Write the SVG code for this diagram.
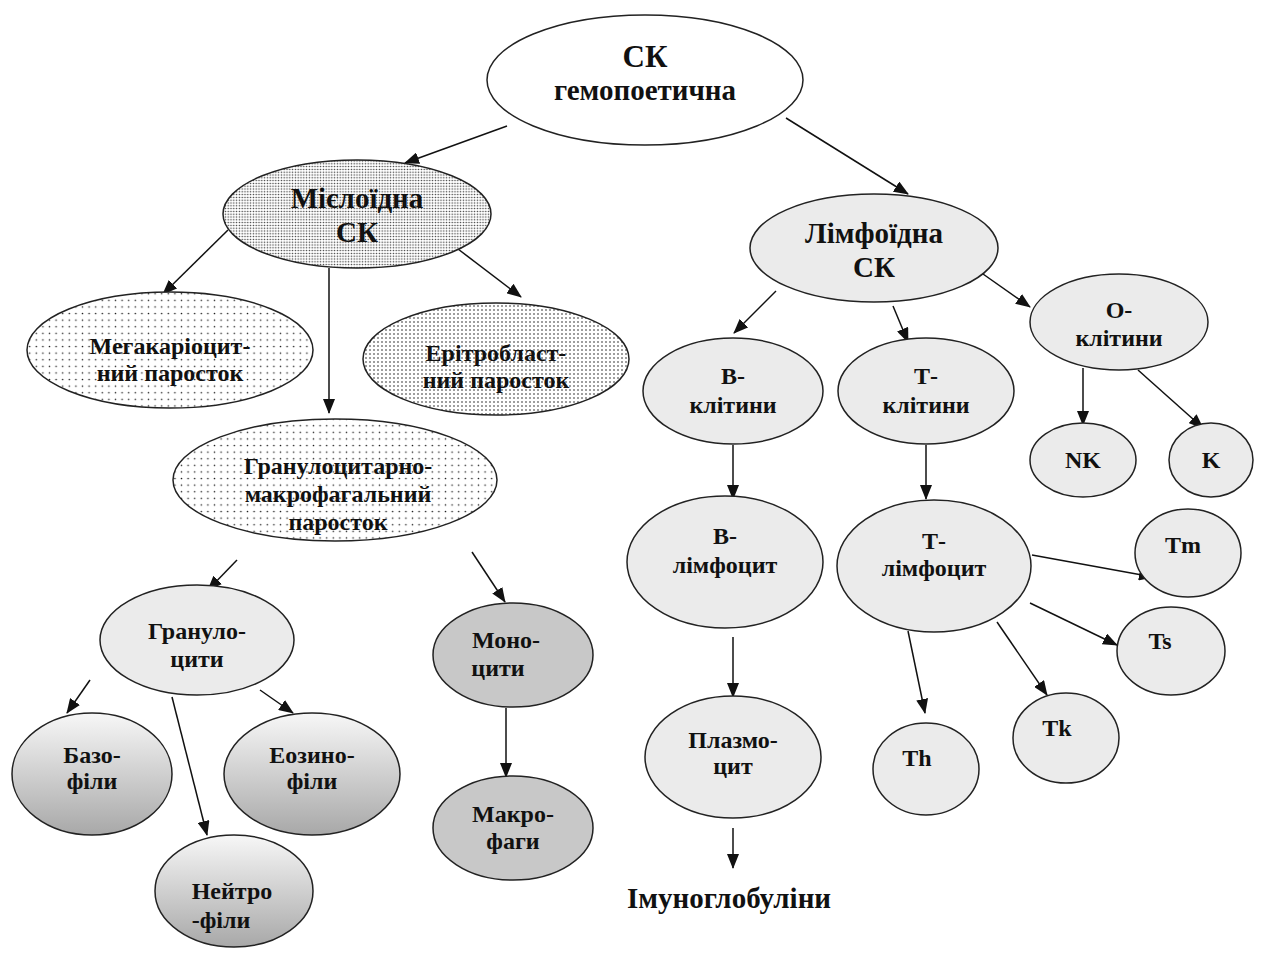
<svg xmlns="http://www.w3.org/2000/svg" width="1263" height="953" viewBox="0 0 1263 953">
<style>
.n{stroke:#222;stroke-width:1.5}
.lg{fill:#ebebeb}
.mg{fill:#c8c8c8}
.t{font-family:"Liberation Serif","DejaVu Serif",serif;font-weight:bold;fill:#111;text-anchor:middle;font-size:24px}
.big{font-size:29px}
.top{font-size:31px}
.c line{stroke:#111;stroke-width:1.5;marker-end:url(#ah)}
</style>
<defs>
<marker id="ah" markerUnits="userSpaceOnUse" markerWidth="15" markerHeight="12" refX="14" refY="6" orient="auto"><path d="M0,0 L15,6 L0,12 z" fill="#111"/></marker>
<pattern id="dense" width="2.8" height="2.8" patternUnits="userSpaceOnUse"><rect width="2.8" height="2.8" fill="#fff"/><circle cx="1.4" cy="1.4" r="0.75" fill="#333"/></pattern>
<pattern id="mid" width="4" height="4" patternUnits="userSpaceOnUse"><rect width="4" height="4" fill="#fff"/><circle cx="2" cy="2" r="0.8" fill="#222"/></pattern>
<pattern id="sparse" width="6.6" height="6.6" patternUnits="userSpaceOnUse"><rect width="6.6" height="6.6" fill="#fff"/><circle cx="3.3" cy="3.3" r="0.8" fill="#222"/></pattern>
<linearGradient id="grad" x1="0" y1="0" x2="0" y2="1"><stop offset="0" stop-color="#f7f7f7"/><stop offset="1" stop-color="#a8a8a8"/></linearGradient>
</defs>

<g id="connectors" class="c">
<line x1="507" y1="126" x2="405" y2="163"/>
<line x1="786" y1="118" x2="908" y2="194"/>
<line x1="228" y1="230" x2="163" y2="294"/>
<line x1="329" y1="268" x2="329" y2="413"/>
<line x1="458" y1="249" x2="521" y2="297"/>
<line x1="237" y1="560" x2="208" y2="590"/>
<line x1="472" y1="552" x2="505" y2="602"/>
<line x1="90" y1="680" x2="67" y2="713"/>
<line x1="172" y1="697" x2="207" y2="835"/>
<line x1="260" y1="690" x2="293" y2="713"/>
<line x1="506" y1="708" x2="506" y2="777"/>
<line x1="776" y1="291" x2="734" y2="333"/>
<line x1="893" y1="306" x2="908" y2="342"/>
<line x1="983" y1="274" x2="1030" y2="307"/>
<line x1="733" y1="445" x2="733" y2="499"/>
<line x1="926" y1="445" x2="926" y2="499"/>
<line x1="1083" y1="368" x2="1083" y2="425"/>
<line x1="1138" y1="370" x2="1203" y2="428"/>
<line x1="733" y1="637" x2="733" y2="697"/>
<line x1="1032" y1="555" x2="1153" y2="577"/>
<line x1="1030" y1="603" x2="1117" y2="645"/>
<line x1="997" y1="622" x2="1047" y2="695"/>
<line x1="908" y1="631" x2="925" y2="713"/>
<line x1="733" y1="828" x2="733" y2="868"/>
</g>

<g id="sk"><ellipse class="n" cx="645" cy="80" rx="158" ry="65" fill="#fff"/><text class="t top" x="645" y="67">СК</text><text class="t big" x="645" y="100">гемопоетична</text></g>

<g id="myeloid"><ellipse class="n" cx="357" cy="214" rx="134" ry="54" fill="url(#dense)"/><text class="t big" x="357" y="208">Мієлоїдна</text><text class="t big" x="357" y="242">СК</text></g>

<g id="lymphoid"><ellipse class="n lg" cx="874" cy="248" rx="124" ry="54"/><text class="t big" x="874" y="243">Лімфоїдна</text><text class="t big" x="874" y="277">СК</text></g>

<g id="mega"><ellipse class="n" cx="170" cy="350" rx="143" ry="58" fill="url(#sparse)"/><text class="t" x="170" y="354">Мегакаріоцит-</text><text class="t" x="170" y="381">ний паросток</text></g>

<g id="erythro"><ellipse class="n" cx="496" cy="359" rx="133" ry="56" fill="url(#mid)"/><text class="t" x="496" y="361">Ерітробласт-</text><text class="t" x="496" y="388">ний паросток</text></g>

<g id="granmacro"><ellipse class="n" cx="335" cy="480" rx="162" ry="61" fill="url(#sparse)"/><text class="t" x="338" y="474">Гранулоцитарно-</text><text class="t" x="338" y="502">макрофагальний</text><text class="t" x="338" y="530">паросток</text></g>

<g id="granulocytes"><ellipse class="n lg" cx="197" cy="640" rx="97" ry="55"/><text class="t" x="197" y="639">Грануло-</text><text class="t" x="197" y="667">цити</text></g>

<g id="baso"><ellipse class="n" cx="92" cy="774" rx="80" ry="61" fill="url(#grad)"/><text class="t" x="92" y="763">Базо-</text><text class="t" x="92" y="789">філи</text></g>

<g id="eosino"><ellipse class="n" cx="312" cy="774" rx="88" ry="61" fill="url(#grad)"/><text class="t" x="312" y="763">Еозино-</text><text class="t" x="312" y="789">філи</text></g>

<g id="neutro"><ellipse class="n" cx="234" cy="891" rx="79" ry="56" fill="url(#grad)"/><text class="t" x="232" y="899">Нейтро</text><text class="t" x="221" y="928">-філи</text></g>

<g id="mono"><ellipse class="n mg" cx="513" cy="655" rx="80" ry="52"/><text class="t" x="506" y="648">Моно-</text><text class="t" x="498" y="676">цити</text></g>

<g id="macro"><ellipse class="n mg" cx="513" cy="828" rx="80" ry="52"/><text class="t" x="513" y="822">Макро-</text><text class="t" x="513" y="849">фаги</text></g>

<g id="bcells"><ellipse class="n lg" cx="733" cy="391" rx="90" ry="53"/><text class="t" x="733" y="384">В-</text><text class="t" x="733" y="413">клітини</text></g>

<g id="tcells"><ellipse class="n lg" cx="926" cy="391" rx="88" ry="53"/><text class="t" x="926" y="384">Т-</text><text class="t" x="926" y="413">клітини</text></g>

<g id="ocells"><ellipse class="n lg" cx="1119" cy="322" rx="89" ry="48"/><text class="t" x="1119" y="318">О-</text><text class="t" x="1119" y="346">клітини</text></g>

<g id="nk"><ellipse class="n lg" cx="1083" cy="460" rx="53" ry="37"/><text class="t" x="1083" y="468">NK</text></g>

<g id="k"><ellipse class="n lg" cx="1211" cy="460" rx="42" ry="37"/><text class="t" x="1211" y="468">K</text></g>

<g id="blymph"><ellipse class="n lg" cx="725" cy="562" rx="98" ry="66"/><text class="t" x="725" y="544">В-</text><text class="t" x="725" y="573">лімфоцит</text></g>

<g id="tlymph"><ellipse class="n lg" cx="934" cy="566" rx="97" ry="66"/><text class="t" x="934" y="549">Т-</text><text class="t" x="934" y="576">лімфоцит</text></g>

<g id="plasma"><ellipse class="n lg" cx="733" cy="757" rx="88" ry="61"/><text class="t" x="733" y="748">Плазмо-</text><text class="t" x="733" y="774">цит</text></g>

<g id="tm"><ellipse class="n lg" cx="1188" cy="553" rx="53" ry="44"/><text class="t" x="1183" y="553">Tm</text></g>
<g id="ts"><ellipse class="n lg" cx="1171" cy="651" rx="54" ry="44"/><text class="t" x="1160" y="649">Ts</text></g>
<g id="tk"><ellipse class="n lg" cx="1066" cy="738" rx="53" ry="45"/><text class="t" x="1057" y="736">Tk</text></g>
<g id="th"><ellipse class="n lg" cx="926" cy="769" rx="53" ry="46"/><text class="t" x="917" y="766">Th</text></g>

<g id="ig"><text class="t big" x="729" y="908">Імуноглобуліни</text></g>
</svg>
